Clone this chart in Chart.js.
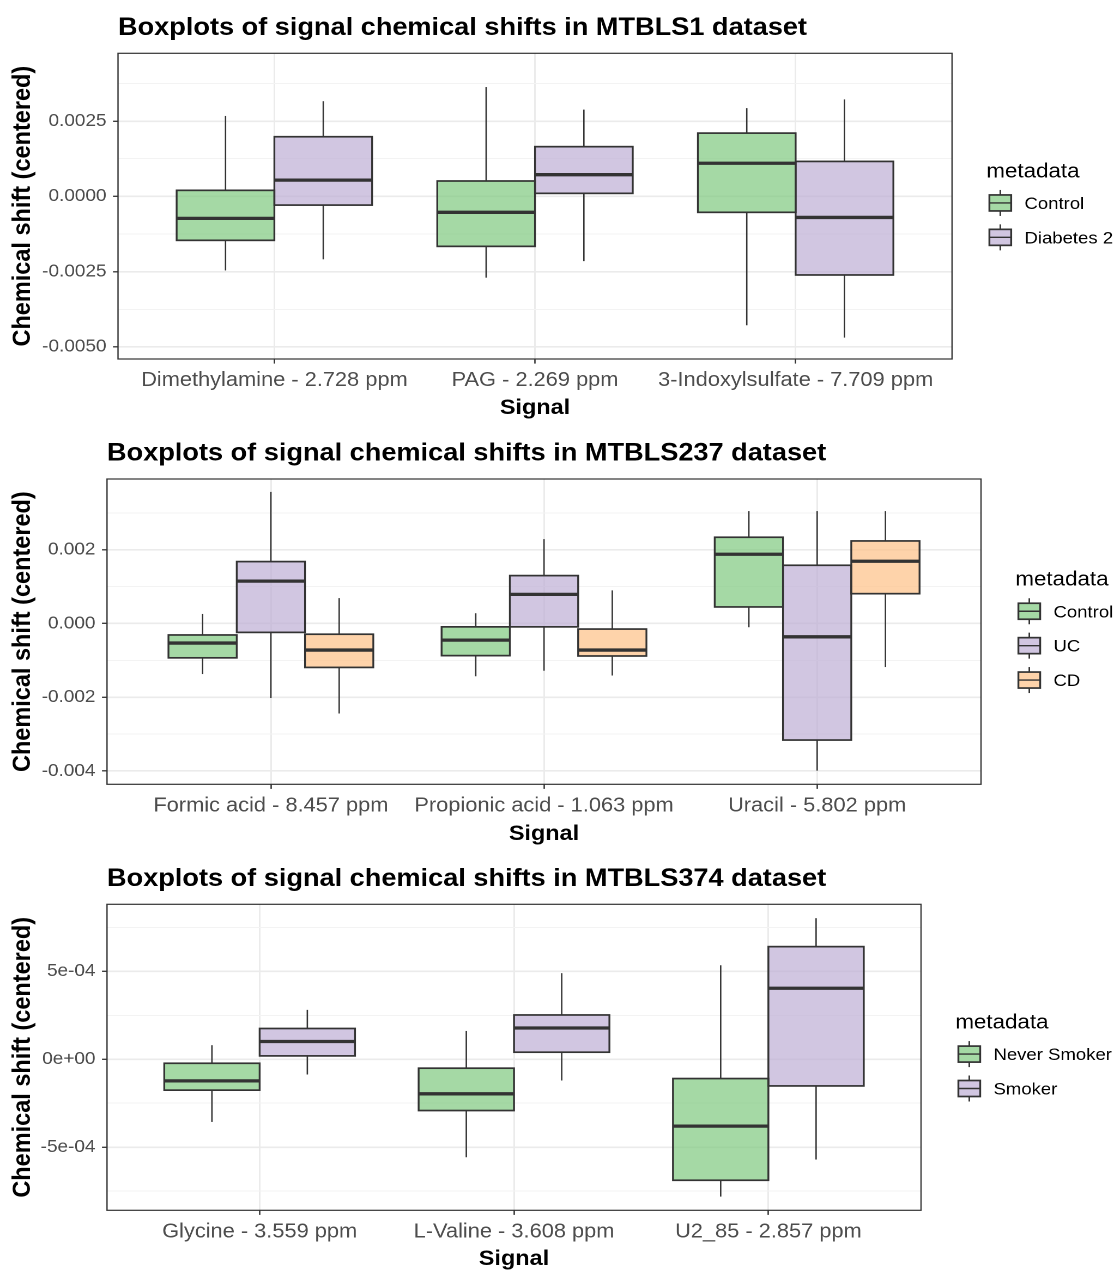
<!DOCTYPE html>
<html>
<head>
<meta charset="utf-8">
<title>Boxplots of signal chemical shifts</title>
<script src="https://cdn.jsdelivr.net/npm/chart.js@4.4.0/dist/chart.umd.min.js"></script>
<style>
  html, body { margin: 0; padding: 0; background: #fff; overflow: hidden; }
  .panel { position: absolute; left: 0; width: 1118px; overflow: hidden; }
  /* the original figure is a little wider than tall text would give, so stretch it */
  .panel canvas { transform-origin: 0 0; transform: scaleX(1.09); }
</style>
</head>
<body>
<div class="panel" style="top:0;height:425px"><canvas id="chart1" width="1026" height="425"></canvas></div>
<div class="panel" style="top:425px;height:425px"><canvas id="chart2" width="1026" height="425"></canvas></div>
<div class="panel" style="top:850px;height:420px"><canvas id="chart3" width="1026" height="425"></canvas></div>
<script>
// each box is [lower whisker, Q1, median, Q3, upper whisker]

// MTBLS1
const signals1 = ['Dimethylamine - 2.728 ppm', 'PAG - 2.269 ppm', '3-Indoxylsulfate - 7.709 ppm'];
const groups1 = ['Control', 'Diabetes 2'];
const control1 = [
    [-0.00246, -0.00146, -0.00073, 0.00020, 0.00267],
    [-0.00270, -0.00166, -0.00053, 0.00051, 0.00363],
    [-0.00428, -0.00053, 0.00110, 0.00210, 0.00293]
];
const diabetes1 = [
    [-0.00209, -0.00029, 0.00054, 0.00198, 0.00316],
    [-0.00215, 0.00010, 0.00072, 0.00165, 0.00288],
    [-0.00469, -0.00261, -0.00070, 0.00116, 0.00322]
];
const yTicks1 = [-0.005, -0.0025, 0, 0.0025];
const yLabels1 = ['-0.0050', '-0.0025', '0.0000', '0.0025'];
const yRange1 = [-0.0054, 0.00475];

// MTBLS237
const signals2 = ['Formic acid - 8.457 ppm', 'Propionic acid - 1.063 ppm', 'Uracil - 5.802 ppm'];
const groups2 = ['Control', 'UC', 'CD'];
const control2 = [
    [-0.00137, -0.00093, -0.00053, -0.00031, 0.00026],
    [-0.00143, -0.00087, -0.00045, -0.00009, 0.00028],
    [-0.00010, 0.00045, 0.00188, 0.00234, 0.00305]
];
const uc2 = [
    [-0.00202, -0.00024, 0.00115, 0.00168, 0.00357],
    [-0.00128, -0.00009, 0.00079, 0.00130, 0.00229],
    [-0.00399, -0.00316, -0.00036, 0.00158, 0.00305]
];
const cd2 = [
    [-0.00244, -0.00119, -0.00072, -0.00029, 0.00069],
    [-0.00141, -0.00088, -0.00072, -0.00015, 0.00090],
    [-0.00118, 0.00081, 0.00169, 0.00224, 0.00305]
];
const yTicks2 = [-0.004, -0.002, 0, 0.002];
const yLabels2 = ['-0.004', '-0.002', '0.000', '0.002'];
const yRange2 = [-0.00436, 0.00392];

// MTBLS374
const signals3 = ['Glycine - 3.559 ppm', 'L-Valine - 3.608 ppm', 'U2_85 - 2.857 ppm'];
const groups3 = ['Never Smoker', 'Smoker'];
const never3 = [
    [-0.000357, -0.000176, -0.000123, -0.000023, 0.000080],
    [-0.000558, -0.000292, -0.000197, -0.000051, 0.000161],
    [-0.000782, -0.000689, -0.000381, -0.000110, 0.000535]
];
const smoker3 = [
    [-0.000087, 0.000019, 0.000101, 0.000175, 0.000281],
    [-0.000121, 0.000040, 0.000178, 0.000252, 0.000490],
    [-0.000571, -0.000152, 0.000404, 0.000641, 0.000803]
];
const yTicks3 = [-0.0005, 0, 0.0005];
const yLabels3 = ['-5e-04', '0e+00', '5e-04'];
const yRange3 = [-0.00086, 0.000882];

const S = 1.09;       // horizontal stretch applied in css
const W = 1026;       // canvas css width before the stretch
const H = 425;
const fills = ['rgba(127,201,127,0.7)', 'rgba(190,174,212,0.7)', 'rgba(253,192,134,0.7)'];
const dark = '#333333';
const FONT = "'Liberation Sans', Arial, Helvetica, sans-serif";

Chart.defaults.font.family = FONT;

// major ticks keep their label, minor ticks sit half way and stay blank
function tickList(major, labels, range) {
    const half = (major[1] - major[0]) / 2;
    const kMin = Math.ceil(range[0] / half - 1e-9);
    const kMax = Math.floor(range[1] / half + 1e-9);
    const out = [];
    for (let k = kMin; k <= kMax; k++) {
        const v = k * half;
        const idx = major.findIndex(m => Math.abs(m - v) < half / 100);
        out.push({ value: v, text: idx >= 0 ? labels[idx] : '', minor: idx < 0 });
    }
    return out;
}

function line(ctx, x1, y1, x2, y2) {
    ctx.beginPath();
    ctx.moveTo(x1, y1);
    ctx.lineTo(x2, y2);
    ctx.stroke();
}

// whiskers, outlines and medians on top of the floating bars
const boxPlugin = {
    id: 'boxes',
    afterDatasetsDraw(chart) {
        const ctx = chart.ctx;
        const y = chart.scales.y;
        ctx.save();
        ctx.strokeStyle = dark;
        chart.data.datasets.forEach((ds, di) => {
            chart.getDatasetMeta(di).data.forEach((bar, i) => {
                const s = ds.stats[i];
                const x0 = bar.x - bar.width / 2;
                const x1 = bar.x + bar.width / 2;
                const p = s.map(v => y.getPixelForValue(v));
                ctx.lineWidth = 1.3;
                line(ctx, bar.x, p[3], bar.x, p[4]);
                line(ctx, bar.x, p[1], bar.x, p[0]);
                ctx.lineWidth = 1.7;
                ctx.strokeRect(x0, p[3], x1 - x0, p[1] - p[3]);
                ctx.lineWidth = 3.3;
                line(ctx, x0, p[2], x1, p[2]);
            });
        });
        ctx.restore();
    }
};

// panel border, left-aligned title and the boxplot legend
const decorPlugin = {
    id: 'decor',
    afterDraw(chart, args, opts) {
        const ctx = chart.ctx;
        const a = chart.chartArea;
        ctx.save();
        ctx.strokeStyle = dark;
        ctx.lineWidth = 1.2;
        ctx.strokeRect(a.left, a.top, a.right - a.left, a.bottom - a.top);

        ctx.fillStyle = '#000';
        ctx.textBaseline = 'alphabetic';
        ctx.font = 'bold 24.9px ' + FONT;
        ctx.fillText(opts.title, a.left, a.top - 18.5);

        const groups = chart.data.datasets.map(d => d.label);
        const n = groups.length;
        const mid = (a.top + a.bottom) / 2;
        const lx = a.right + 31.5;
        const titleY = mid - 28.9 - 17.2 * (n - 2);
        ctx.font = '20.5px ' + FONT;
        ctx.fillText('metadata', lx, titleY);

        ctx.font = '17px ' + FONT;
        groups.forEach((g, i) => {
            const base = titleY + 31.7 + 34.4 * i;
            const cy = base - 6;
            const gx = lx + 2.8, gw = 20;
            ctx.fillStyle = '#fff';
            ctx.fillRect(gx, cy - 8, gw, 16);
            ctx.fillStyle = chart.data.datasets[i].backgroundColor;
            ctx.fillRect(gx, cy - 8, gw, 16);
            ctx.lineWidth = 1.4;
            line(ctx, gx + gw / 2, cy - 13, gx + gw / 2, cy - 8);
            line(ctx, gx + gw / 2, cy + 8, gx + gw / 2, cy + 13);
            ctx.lineWidth = 1.7;
            ctx.strokeRect(gx, cy - 8, gw, 16);
            ctx.lineWidth = 1.4;
            line(ctx, gx, cy, gx + gw, cy);
            ctx.fillStyle = '#000';
            ctx.fillText(g, lx + 35, base);
        });
        ctx.restore();
    }
};

function makeChart(p) {
    const ticks = tickList(p.yTicks, p.yLabels, p.yRange);
    const datasets = p.groups.map((g, gi) => ({
        label: g,
        data: p.stats[gi].map((s, i) => ({ x: i + 1, y: [s[1], s[3]] })),
        stats: p.stats[gi],
        backgroundColor: fills[gi],
        borderWidth: 0
    }));
    const xTitleLine = 21.5 * 1.2;

    return new Chart(document.getElementById(p.canvas), {
        type: 'bar',
        data: { datasets: datasets },
        plugins: [boxPlugin, decorPlugin],
        options: {
            responsive: false,
            devicePixelRatio: 2,
            animation: false,
            events: [],
            layout: { padding: { top: p.plot.top, right: W - p.plot.right / S, left: 0, bottom: 0 } },
            datasets: { bar: { categoryPercentage: 0.75, barPercentage: 1 } },
            plugins: {
                legend: { display: false },
                title: { display: false },
                tooltip: { enabled: false },
                decor: { title: p.title }
            },
            scales: {
                x: {
                    type: 'linear',
                    min: 0.4,
                    max: 3.6,
                    offset: false,
                    afterBuildTicks: s => { s.ticks = p.signals.map((_, i) => ({ value: i + 1 })); },
                    afterFit: s => { s.height = H - p.plot.bottom; },
                    ticks: {
                        autoSkip: false,
                        maxRotation: 0,
                        padding: 5,
                        color: '#4D4D4D',
                        font: { size: 20 },
                        callback: (v, i) => p.signals[i]
                    },
                    grid: { offset: false, color: '#EBEBEB', lineWidth: 1.5, tickColor: dark, tickWidth: 1.3, tickLength: 4.6 },
                    border: { display: false },
                    title: {
                        display: true,
                        text: 'Signal',
                        color: '#000',
                        font: { size: 21.5, weight: 'bold' },
                        padding: { top: 0, bottom: Math.max(0, H - p.signalY - xTitleLine / 2 - 2) }
                    }
                },
                y: {
                    min: p.yRange[0],
                    max: p.yRange[1],
                    afterBuildTicks: s => { s.ticks = ticks.map(t => Object.assign({}, t)); },
                    afterFit: s => { s.width = p.plot.left / S; },
                    ticks: {
                        autoSkip: false,
                        padding: 6,
                        color: '#4D4D4D',
                        font: { size: 17.4 },
                        callback: (v, i, t) => t[i].text
                    },
                    grid: {
                        color: c => (c.tick && c.tick.minor ? '#F3F3F3' : '#EBEBEB'),
                        lineWidth: c => (c.tick && c.tick.minor ? 1 : 1.6),
                        tickColor: c => (c.tick && c.tick.minor ? 'rgba(0,0,0,0)' : dark),
                        tickWidth: 1.3,
                        tickLength: 4.6
                    },
                    border: { display: false },
                    title: {
                        display: true,
                        text: 'Chemical shift (centered)',
                        color: '#000',
                        font: { size: 23.5, weight: 'bold' },
                        padding: { top: 7, bottom: 0 }
                    }
                }
            }
        }
    });
}

makeChart({
    canvas: 'chart1',
    title: 'Boxplots of signal chemical shifts in MTBLS1 dataset',
    signals: signals1, groups: groups1, stats: [control1, diabetes1],
    yTicks: yTicks1, yLabels: yLabels1, yRange: yRange1,
    plot: { left: 118, right: 952, top: 53.3, bottom: 359 }, signalY: 406
});
makeChart({
    canvas: 'chart2',
    title: 'Boxplots of signal chemical shifts in MTBLS237 dataset',
    signals: signals2, groups: groups2, stats: [control2, uc2, cd2],
    yTicks: yTicks2, yLabels: yLabels2, yRange: yRange2,
    plot: { left: 107, right: 981, top: 54, bottom: 359.3 }, signalY: 407
});
makeChart({
    canvas: 'chart3',
    title: 'Boxplots of signal chemical shifts in MTBLS374 dataset',
    signals: signals3, groups: groups3, stats: [never3, smoker3],
    yTicks: yTicks3, yLabels: yLabels3, yRange: yRange3,
    plot: { left: 107, right: 921, top: 54.3, bottom: 360.3 }, signalY: 407
});
</script>
</body>
</html>
